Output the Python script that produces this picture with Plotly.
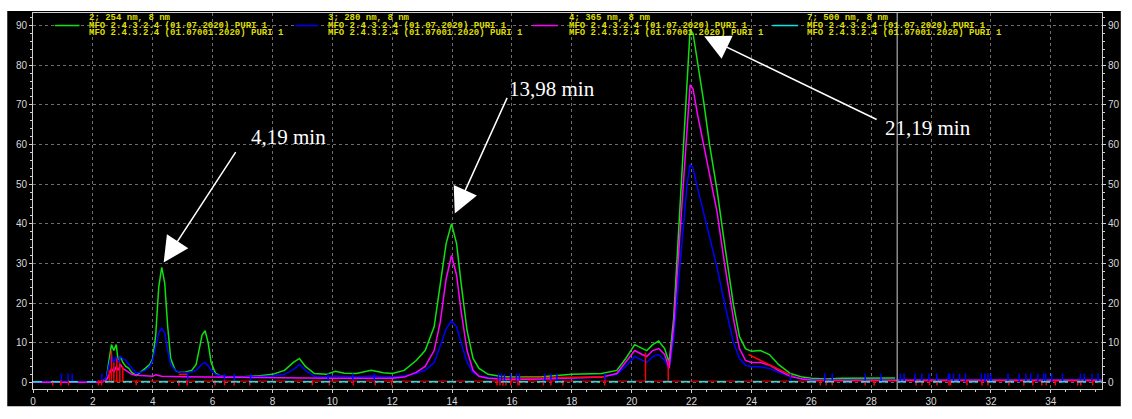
import plotly.graph_objects as go

# ---------------- data ----------------
t_green = [0, 2.3, 2.45, 2.55, 2.62, 2.7, 2.78, 2.85, 2.92, 3.0, 3.1, 3.2, 3.3, 3.45, 3.6, 3.75, 3.9, 4.0, 4.1, 4.2,
           4.3, 4.4, 4.5, 4.6, 4.75, 4.9, 5.1, 5.3, 5.45, 5.55, 5.65, 5.75, 5.85, 5.95, 6.1, 6.3, 6.6, 7.0, 7.5, 8.0,
           8.4, 8.7, 8.9, 9.1, 9.4, 9.8, 10.1, 10.4, 10.8, 11.3, 11.7, 12.0, 12.4, 12.8, 13.1, 13.4, 13.6, 13.8, 13.98,
           14.15, 14.3, 14.5, 14.7, 14.9, 15.2, 15.6, 16.0, 17.0, 18.0, 19.0, 19.5, 19.8, 20.1, 20.35, 20.5, 20.7,
           20.9, 21.1, 21.25, 21.4, 21.55, 21.73, 21.85, 21.95, 22.05, 22.2, 22.4, 22.6, 22.85, 23.1, 23.4, 23.6,
           23.8, 24.0, 24.3, 24.6, 24.9, 25.3, 25.7, 26.0, 26.5, 27.0, 28.0, 28.8]
v_green = [0, 0.2, 1, 6, 9.5, 8, 9.5, 5, 6.5, 5, 4, 3.5, 2.5, 1.7, 2.5, 3.5, 4.5, 6, 12, 24,
           29, 25, 14, 6, 3, 2.5, 2.6, 3, 4.5, 8, 12, 13, 10, 5, 2.2, 1.5, 1.3, 1.4, 1.6, 2,
           3, 5, 6, 4, 2.2, 2, 2.8, 2.3, 2.2, 3, 2.4, 2.2, 3, 5.5, 8, 14, 24, 35, 40,
           35, 25, 13, 6, 3.5, 2, 1.5, 1.3, 1.4, 2, 2.2, 3, 6, 9.5, 8.5, 8, 9.5,
           10.4, 8.5, 5.0, 16, 36, 59, 78, 89, 88, 81, 71, 60, 48.5, 35, 19.5, 11.5,
           8.5, 7.8, 8, 7, 4.5, 2.2, 1.3, 1, 0.8, 1, 1.1, 1.1]

t_blue = [0, 2.3, 2.45, 2.55, 2.62, 2.7, 2.78, 2.85, 2.92, 3.0, 3.1, 3.2, 3.3, 3.45, 3.6, 3.75, 3.9, 4.0, 4.1, 4.2,
          4.3, 4.4, 4.5, 4.6, 4.75, 4.9, 5.1, 5.3, 5.45, 5.55, 5.65, 5.75, 5.85, 5.95, 6.1, 6.3, 6.6, 7.0, 7.5, 8.0,
          8.4, 8.7, 8.9, 9.1, 9.4, 9.8, 10.1, 10.4, 10.8, 11.3, 11.7, 12.0, 12.4, 12.8, 13.1, 13.4, 13.6, 13.8, 13.98,
          14.15, 14.3, 14.5, 14.7, 14.9, 15.2, 15.6, 16.0, 17.0, 18.0, 19.0, 19.5, 19.8, 20.1, 20.35, 20.5, 20.7,
          20.9, 21.1, 21.25, 21.4, 21.55, 21.73, 21.85, 21.95, 22.05, 22.2, 22.4, 22.6, 22.85, 23.1, 23.4, 23.6,
          23.8, 24.0, 24.3, 24.6, 24.9, 25.3, 25.7, 26.0, 26.5, 27.0, 28.0, 29.0, 30.0, 35.7]
v_blue = [0.1, 0.2, 1, 5, 7, 5, 6.5, 5, 6.5, 6, 5.5, 4.5, 3.5, 2.3, 2.5, 3, 4, 5.5, 9, 12.5,
          13.6, 12.5, 8, 4.5, 3, 2.6, 2.4, 2.6, 3, 3.8, 4.6, 5, 4.2, 3, 2, 1.5, 1.3, 1.3, 1.4, 1.6,
          2, 3.2, 4.5, 3, 1.5, 1.3, 1.6, 1.4, 1.3, 1.6, 1.4, 1.3, 1.6, 2.2, 3, 5, 9, 13.5, 15.5,
          14, 10, 5, 2.5, 1.6, 1.2, 0.9, 0.8, 0.8, 1, 1.3, 2, 4, 6.5, 5.5, 5, 6.5,
          7, 5.5, 3.3, 11, 24, 38, 50, 55, 54, 49, 43, 37, 29, 20, 10, 6,
          4.3, 3.9, 3.9, 3.5, 2.5, 1.5, 0.9, 0.7, 0.6, 0.6, 0.6, 0.5, 0.5, 0.5]

t_magenta = [0, 2.3, 2.45, 2.55, 2.62, 2.7, 2.78, 2.85, 2.92, 3.0, 3.1, 3.2, 3.3, 3.45, 3.6, 3.75, 3.9, 4.0, 4.1,
             4.2, 4.3, 5.0, 6.0, 8.0, 10.0, 12.0, 12.4, 12.8, 13.1, 13.4, 13.6, 13.8, 13.98, 14.15, 14.3, 14.5,
             14.7, 14.9, 15.2, 15.6, 16.0, 17.0, 18.0, 19.0, 19.5, 19.8, 20.1, 20.35, 20.5, 20.7, 20.9, 21.1,
             21.25, 21.4, 21.55, 21.73, 21.85, 21.95, 22.05, 22.2, 22.4, 22.6, 22.85, 23.1, 23.4, 23.6, 23.8,
             24.0, 24.3, 24.6, 24.9, 25.3, 25.7, 26.0, 27.0, 35.7]
v_magenta = [0, 0, 0.5, 2, 3.5, 2.5, 4, 3, 4.5, 3.5, 3, 2.5, 2, 1.8, 1.7, 1.6, 1.5, 1.5, 1.9,
             1.7, 1.5, 1.4, 1.3, 1.1, 1.0, 1.0, 1.3, 2.5, 4, 8, 15, 26, 32, 27, 18, 8,
             3, 1.5, 1, 0.8, 0.7, 0.8, 1, 1.3, 2.2, 5, 8, 7, 6.5, 8, 8.5, 7,
             3.6, 14, 31, 50, 66, 75, 74, 67.5, 60, 52.5, 43, 30, 16, 8.5, 5.5,
             5, 5, 4.3, 3, 1.5, 0.8, 0.6, 0.5, 0.5]

t_cyan = [0, 35.7]
v_cyan = [0.1, 0.1]

# integration events (red drop lines at valleys) and markers
red_drop_t = [2.55, 2.62, 2.7, 2.8, 2.9, 3.0, 19.1, 20.46, 21.22]
red_drop_h = [3, 8, 5, 6, 5, 4, 2, 7.5, 5.5]
red_seg_t = [[4.87, 5.15], [15.5, 19.1], [23.9, 25.4]]
red_seg_v = [[2.0, 2.0], [1.0, 1.4], [7.0, 1.5]]
red_base_t = [2.2, 35.7]
red_base_v = [0.3, 0.3]

red_ticks = [0.66, 0.93, 1.19, 2.19, 2.29, 3.45, 4.87, 5.15, 6.08, 6.4, 6.72, 7.24, 9.33, 9.9, 10.7, 11.43,
             11.98, 15.5, 15.6, 15.7, 15.8, 15.96, 16.2, 16.25, 17.05, 17.3, 17.7, 19.1, 26.3, 26.5, 26.7,
             27.8, 28.1, 29.5, 29.7, 29.95, 30.2, 30.6, 30.65, 31.2, 31.7, 31.9, 32.6, 33.1, 33.4, 33.7,
             33.85, 34.15, 34.9, 35.0, 35.4]
blue_ticks = [0.95, 1.17, 1.31, 2.3, 5.17, 6.39, 6.72, 7.27, 9.86, 10.68, 11.4, 15.55, 15.65, 15.75, 15.95,
              16.15, 16.25, 17.1, 17.3, 17.5, 19.1, 25.3, 26.45, 26.7, 27.8, 28.33, 28.97, 29.1, 29.46, 29.69,
              29.93, 30.19, 30.58, 30.62, 30.75, 30.95, 31.15, 31.68, 31.8, 31.9, 32.0, 32.57, 32.94, 33.17,
              33.33, 33.57, 33.76, 33.83, 34.03, 34.39, 34.99, 35.12, 35.38, 35.58]

cursor_t = 28.87

legend_titles = ["2; 254 nm, 8 nm", "3; 280 nm, 8 nm", "4; 365 nm, 8 nm", "7; 500 nm, 8 nm"]
legend_line1 = "MFO 2.4.3.2.4 (01.07.2020) PURI 1"
legend_line2 = "MFO 2.4.3.2.4 (01.07001.2020) PURI 1"

peak_labels = ["4,19 min", "13,98 min", "21,19 min"]
peak_tip_t = [4.365, 14.09, 22.42]
peak_tip_v = [30.2, 42.6, 87.3]
label_t = [8.55, 17.35, 29.9]
label_v = [62.0, 74.0, 64.2]

x_ticks = list(range(0, 36, 2))
y_ticks = list(range(0, 100, 10))

# ---------------- figure ----------------
W, H = 1132, 419
ML, MR, MT, MB = 33, 19, 13, 16
XR = [0, 35.71]
YR = [-1.70, 93.17]

GREEN, BLUE, MAGENTA, CYAN, RED = "#10e010", "#0000ff", "#ff00ff", "#00e8e8", "#ff0000"
series_colors = [GREEN, BLUE, MAGENTA, CYAN]

fig = go.Figure()
lw = 1.5
fig.add_trace(go.Scatter(x=t_green, y=v_green, mode="lines", line=dict(color=GREEN, width=lw)))
fig.add_trace(go.Scatter(x=t_blue, y=v_blue, mode="lines", line=dict(color=BLUE, width=lw)))
fig.add_trace(go.Scatter(x=t_magenta, y=v_magenta, mode="lines", line=dict(color=MAGENTA, width=lw)))
fig.add_trace(go.Scatter(x=t_cyan, y=v_cyan, mode="lines", line=dict(color=CYAN, width=1.5, dash="dash"),
                         yaxis="y2"))

# red baseline + segments
fig.add_trace(go.Scatter(x=red_base_t, y=red_base_v, mode="lines", line=dict(color=RED, width=1)))
sx, sy = [], []
for ts, vs in zip(red_seg_t, red_seg_v):
    sx += ts + [None]
    sy += vs + [None]
for t, h in zip(red_drop_t, red_drop_h):
    sx += [t, t, None]
    sy += [0, h, None]
fig.add_trace(go.Scatter(x=sx, y=sy, mode="lines", line=dict(color=RED, width=1.5)))

# event markers
bx, by = [], []
for t in blue_ticks:
    bx += [t, t, None]
    by += [0.0, 2.2, None]
fig.add_trace(go.Scatter(x=bx, y=by, mode="lines", line=dict(color=BLUE, width=1.5)))
rx, ry = [], []
for t in red_ticks:
    rx += [t, t, None]
    ry += [0.5, -0.8, None]
fig.add_trace(go.Scatter(x=rx, y=ry, mode="lines", line=dict(color=RED, width=1.5)))

pw = W - ML - MR
ph = H - MT - MB

shapes = [
    # black panel behind the whole chart (from x=7px, y=11px to the bottom-right corner)
    dict(type="rect", xref="paper", yref="paper", layer="below",
         x0=(7 - ML) / pw, x1=(W - ML) / pw, y0=-(MB + 2) / ph, y1=1 + (MT - 11) / ph,
         fillcolor="black", line=dict(width=0)),
    # cursor line
    dict(type="line", xref="x", yref="paper", x0=cursor_t, x1=cursor_t, y0=0, y1=1,
         line=dict(color="#8a8a8a", width=1.5)),
]

# legend line samples (pixel positions converted to paper coordinates)
legend_line_px = [(55, 80), (298, 321), (538, 563), (780, 806)]
legend_text_px = [88, 329, 572, 813]
ly = 1 - (26 - MT) / ph
for (a, b), c in zip(legend_line_px, series_colors):
    shapes.append(dict(type="line", xref="paper", yref="paper", x0=(a - ML) / pw, x1=(b - ML) / pw,
                       y0=ly, y1=ly, line=dict(color=c, width=1.5)))

annotations = []
YEL = "#dede00"
for title, px in zip(legend_titles, legend_text_px):
    for txt, ypx in [(title, 18.5), (legend_line1, 26), (legend_line2, 33.5)]:
        annotations.append(dict(xref="paper", yref="paper", x=(px - ML) / pw, y=1 - (ypx - MT) / ph,
                                text=txt, showarrow=False, xanchor="left", yanchor="middle",
                                font=dict(family="Liberation Mono, Courier New, monospace", size=9,
                                          color=YEL, weight="bold")))

arrow_offsets = [(73, -112), (53, -117), (174, 84)]
for tt, vv, (axp, ayp) in zip(peak_tip_t, peak_tip_v, arrow_offsets):
    annotations.append(dict(x=tt, y=vv, xref="x", yref="y", text="", showarrow=True,
                            ax=axp, ay=ayp, arrowhead=2, arrowsize=3.4, arrowwidth=1.5,
                            arrowcolor="white", standoff=0))
for txt, tt, vv in zip(peak_labels, label_t, label_v):
    annotations.append(dict(x=tt, y=vv, xref="x", yref="y", text=txt, showarrow=False,
                            font=dict(family="Liberation Serif, Times New Roman", size=21, color="white")))

axis_font = dict(family="Liberation Sans, Arial", size=10, color="#d8d8d8")
grid = dict(showgrid=True, gridcolor="#6e6e6e", gridwidth=1, griddash="3px,3px")

fig.update_layout(
    width=W, height=H,
    margin=dict(l=ML, r=MR, t=MT, b=MB, pad=0),
    paper_bgcolor="white", plot_bgcolor="black",
    showlegend=False,
    shapes=shapes, annotations=annotations,
    xaxis=dict(range=XR, tickvals=x_ticks, ticktext=[str(v) for v in x_ticks], tickfont=axis_font,
               showline=True, linecolor="#d0d0d0", linewidth=1, mirror=True, zeroline=False,
               ticks="outside", ticklen=3, tickcolor="#d0d0d0",
               minor=dict(dtick=0.5, ticks="outside", ticklen=2, tickcolor="#d0d0d0", showgrid=False),
               **grid),
    yaxis=dict(range=YR, tickvals=y_ticks, ticktext=[str(v) for v in y_ticks], tickfont=axis_font,
               showline=True, linecolor="#d0d0d0", linewidth=1, mirror=True, zeroline=False,
               ticks="outside", ticklen=3, tickcolor="#d0d0d0",
               minor=dict(dtick=2, ticks="outside", ticklen=2, tickcolor="#d0d0d0", showgrid=False),
               **grid),
    yaxis2=dict(range=YR, overlaying="y", side="right", tickvals=y_ticks,
                ticktext=[str(v) for v in y_ticks], tickfont=axis_font, showgrid=False, zeroline=False,
                ticks="outside", ticklen=3, tickcolor="#d0d0d0",
                minor=dict(dtick=2, ticks="outside", ticklen=2, tickcolor="#d0d0d0")),
)

fig.write_html("out.html")
